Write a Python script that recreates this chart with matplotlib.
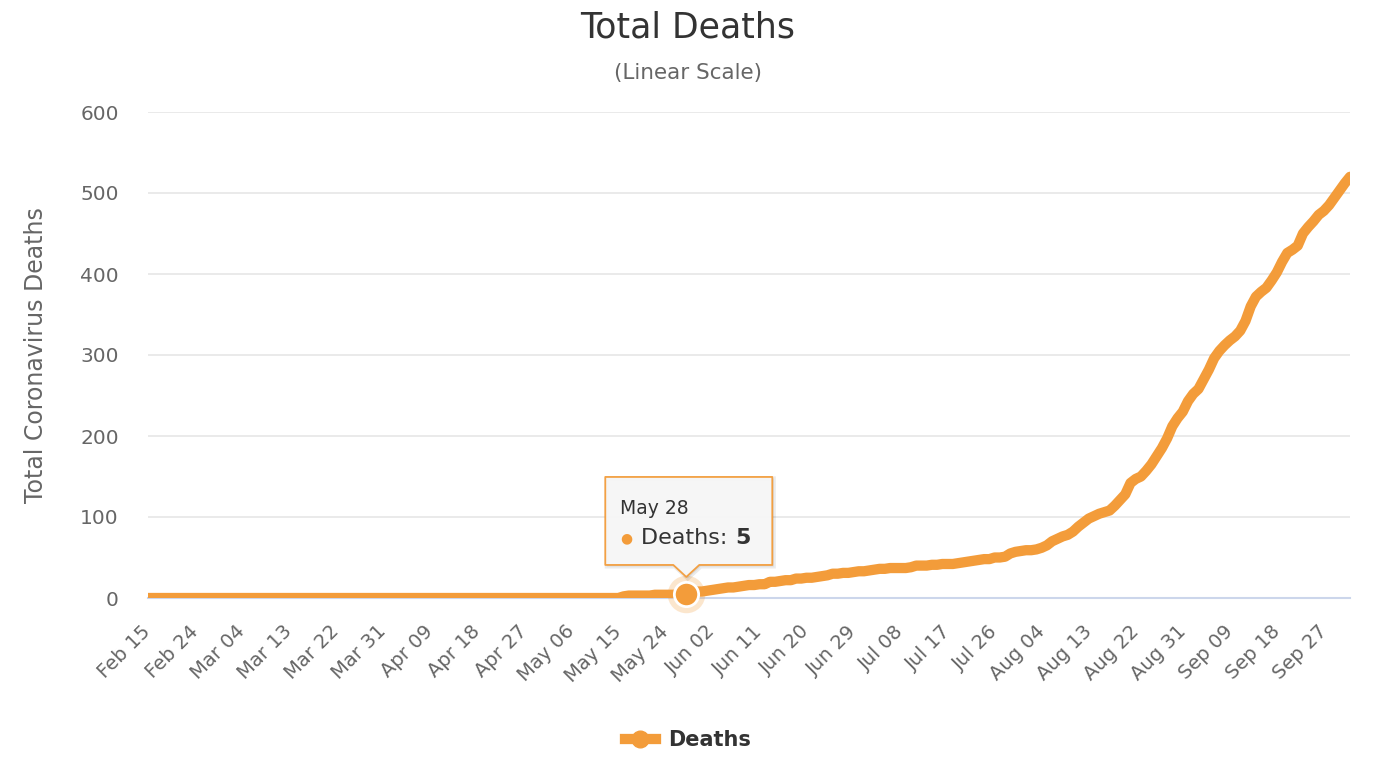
import numpy as np
import pandas as pd
import matplotlib
matplotlib.use("Agg")
import matplotlib.pyplot as plt
from matplotlib.lines import Line2D
from matplotlib.patches import Polygon
from matplotlib.transforms import IdentityTransform

# --- data --------------------------------------------------------------------
feb = [0] * 15
mar = [0] * 31
apr = [0] * 30
may = [0, 0, 0, 0, 0, 0, 0, 0, 0, 0, 0, 0, 0, 0, 0,
       2, 3, 3, 3, 3, 3, 4, 4, 4, 4, 4, 5, 5, 6, 8, 8]
jun = [9, 10, 11, 12, 13, 13, 14, 15, 16, 16, 17, 17, 20, 20, 21,
       22, 22, 24, 24, 25, 25, 26, 27, 28, 30, 30, 31, 31, 32, 33]
jul = [33, 34, 35, 36, 36, 37, 37, 37, 37, 38, 40, 40, 40, 41, 41, 42,
       42, 42, 43, 44, 45, 46, 47, 48, 48, 50, 50, 51, 55, 57, 58]
aug = [59, 59, 60, 62, 65, 70, 73, 76, 78, 82, 88, 93, 98, 101, 104, 106,
       108, 114, 121, 128, 142, 147, 150, 157, 165, 175, 185, 197, 212, 222, 230]
sep = [243, 252, 258, 270, 282, 296, 305, 312, 318, 323, 330, 342, 360, 372, 378,
       383, 392, 402, 415, 426, 430, 435, 450, 458, 465, 473, 478, 485, 494, 503]
oct_ = [512, 520]
deaths = feb + mar + apr + may + jun + jul + aug + sep + oct_
dates = pd.date_range("2020-02-15", periods=len(deaths), freq="D")
hover_date = pd.Timestamp("2020-05-28")
y_ticks = [0, 100, 200, 300, 400, 500, 600]

ORANGE = "#f39c3a"
DARK = "#333333"
GREY = "#666666"

plt.rcParams["font.family"] = ["DejaVu Sans"]

W, H = 1376, 770
fig = plt.figure(figsize=(W / 100, H / 100), dpi=100)
ax = fig.add_axes([148 / W, 1 - 598 / H, 1202 / W, 486 / H])

x = np.arange(len(deaths))
ax.plot(x, deaths, color=ORANGE, lw=7.4, solid_joinstyle="round",
        solid_capstyle="round", zorder=3)

ax.set_xlim(0, len(deaths) - 1)
ax.set_ylim(0, 600)
ax.set_yticks(y_ticks)
ax.set_yticklabels([str(v) for v in y_ticks])
ax.yaxis.grid(True, color="#e6e6e6", lw=1.2)
ax.set_axisbelow(True)

tick_idx = x[::9]
ax.set_xticks(tick_idx)
ax.set_xticklabels([dates[i].strftime("%b %d") for i in tick_idx],
                   rotation=45, ha="right", va="center", rotation_mode="anchor")
ax.tick_params(axis="x", length=0, pad=22, labelsize=14, labelcolor=GREY)
ax.tick_params(axis="y", length=0, pad=21, labelsize=14.5, labelcolor=GREY)

for s in ["top", "right", "left"]:
    ax.spines[s].set_visible(False)
ax.spines["bottom"].set_color("#ccd6eb")
ax.spines["bottom"].set_linewidth(1.5)

ax.set_ylabel("Total Coronavirus Deaths", fontsize=17, color=GREY)
ax.yaxis.set_label_coords((48 - 148) / 1202, 0.5)

fig.text(0.5, 1 - 28 / H, "Total Deaths", ha="center", va="center",
         fontsize=25, color=DARK)
fig.text(0.5, 1 - 73 / H, "(Linear Scale)", ha="center", va="center",
         fontsize=15.5, color=GREY)

# hovered point + halo
hi = int(np.where(dates == hover_date)[0][0])
hv = deaths[hi]
ax.plot(hi, hv, "o", ms=27, color=ORANGE, alpha=0.25, mec="none",
        clip_on=False, zorder=4)
ax.plot(hi, hv, "o", ms=17.5, color=ORANGE, mec="white", mew=2,
        clip_on=False, zorder=5)

# tooltip callout, positioned relative to the hovered point
fig.canvas.draw()
px, py = ax.transData.transform((hi, hv))
left, right = px - 81, px + 86
top, bottom = py + 117, py + 29
tip = py + 17
pts = [(left, top), (right, top), (right, bottom), (px + 13, bottom),
       (px, tip), (px - 13, bottom), (left, bottom)]
shadow = Polygon([(a + 1.5, b - 1.5) for a, b in pts], closed=True,
                 transform=IdentityTransform(), facecolor="black",
                 edgecolor="black", lw=3, alpha=0.08, zorder=9)
box = Polygon(pts, closed=True, transform=IdentityTransform(),
              facecolor="#f7f7f7", edgecolor=ORANGE, lw=1.3, alpha=0.95,
              joinstyle="round", zorder=10)
fig.add_artist(shadow)
fig.add_artist(box)

fig.text((left + 15) / W, (top - 32) / H, hover_date.strftime("%b %d"),
         ha="left", va="center", fontsize=13.5, color=DARK, zorder=11)
fig.text((left + 21) / W, (top - 61) / H, "\u25cf", ha="center", va="center",
         fontsize=10, color=ORANGE, zorder=11)
t2 = fig.text((left + 36) / W, (top - 61) / H, "Deaths: ", ha="left",
              va="center", fontsize=16, color=DARK, zorder=11)
fig.canvas.draw()
bb = t2.get_window_extent(renderer=fig.canvas.get_renderer())
fig.text(bb.x1 / W, (top - 61) / H, str(hv), ha="left", va="center",
         fontsize=16, fontweight="bold", color=DARK, zorder=11)

# legend
handle = Line2D([], [], color=ORANGE, lw=7.4, marker="o", ms=12)
leg = fig.legend([handle], ["Deaths"], loc="center",
                 bbox_to_anchor=(688 / W, 1 - 740 / H), frameon=False,
                 prop={"size": 15, "weight": "bold"}, handlelength=1.5,
                 handletextpad=0.6)
for t in leg.get_texts():
    t.set_color(DARK)

fig.savefig("out.png", dpi=100)
